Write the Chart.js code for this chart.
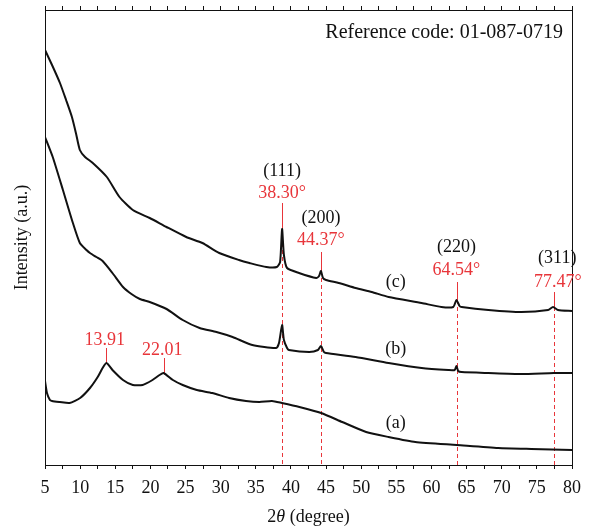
<!DOCTYPE html>
<html>
<head>
<meta charset="utf-8">
<script src="https://cdn.jsdelivr.net/npm/chart.js@4/dist/chart.umd.min.js"></script>
<style>
  body { margin: 0; background: #fff; }
  #wrap { width: 589px; height: 526px; }
</style>
</head>
<body>
<div id="wrap"><canvas id="xrdChart" width="589" height="526"></canvas></div>
<script>
// 2-theta (degree) and intensity (a.u., arbitrary offset units)
const thetaA = [5.0, 5.28, 5.7, 6.0, 7.1, 8.5, 10.0, 11.4, 12.5, 13.2, 13.75, 14.6, 16.1, 17.5, 18.9, 20.3, 21.3, 21.87, 23.2, 24.6, 26.6, 28.8, 31.2, 33.6, 35.5, 37.3, 38.7, 41.2, 44.3, 47.3, 50.7, 53.9, 57.7, 63.6, 69.5, 74.2, 80.0];
const intensA = [84, 72, 65, 64, 63, 62, 67, 77, 88, 97, 102, 95, 85, 80, 80, 85, 90, 92, 85, 80, 75, 72, 67, 64, 63, 64, 62, 58, 52, 43, 33, 28, 23, 20, 17, 16, 15];

const thetaB = [5.0, 6.1, 7.55, 8.97, 9.96, 10.9, 11.4, 12.3, 13.2, 14.6, 16.1, 17.3, 18.5, 19.9, 22.3, 24.6, 27.0, 29.4, 31.7, 34.5, 37.9, 38.3, 38.74, 39.0, 39.45, 39.7, 42.6, 43.85, 44.27, 44.7, 45.0, 49.2, 53.9, 58.6, 62.4, 63.3, 63.55, 63.8, 64.3, 68.1, 72.8, 77.4, 80.0];
const intensB = [328, 308, 275, 242, 222, 215, 212, 208, 204, 192, 178, 171, 166, 163, 156, 145, 137, 133, 128, 120, 117, 122, 140, 125, 117, 115, 113, 115, 119, 113, 112, 108, 102, 97, 95, 95, 99, 94, 93, 92, 91, 92, 92];

const thetaC = [5.0, 6.0, 7.13, 8.0, 8.83, 9.4, 9.96, 10.7, 11.8, 13.8, 15.6, 17.5, 19.9, 22.3, 25.1, 27.4, 29.8, 32.6, 34.1, 36.5, 38.0, 38.46, 38.74, 39.0, 39.45, 41.15, 43.6, 44.0, 44.27, 44.56, 45.0, 46.8, 49.2, 51.5, 53.9, 58.6, 61.4, 63.1, 63.55, 64.0, 64.3, 68.1, 72.8, 76.6, 77.3, 78.0, 80.0];
const intensC = [415, 400, 382, 365, 348, 332, 315, 308, 302, 288, 268, 255, 247, 238, 228, 222, 212, 205, 202, 198, 198, 203, 236, 210, 197, 192, 187, 189, 194, 187, 185, 182, 177, 173, 168, 162, 158, 158, 165, 159, 158, 155, 153, 155, 158, 155, 154];

// Reference peaks (dashed lines) and their labels
const peakPos = [38.74, 44.25, 63.6, 77.4];
const peakTop = [236, 194, 165, 158];
const lineTop = [262, 213, 183, 173];
const peakAngles = ['38.30°', '44.37°', '64.54°', '77.47°'];
const peakPlanes = ['(111)', '(200)', '(220)', '(311)'];

// Amorphous humps of curve (a)
const humpPos = [13.75, 21.87];
const humpTop = [102, 92];
const humpLineTop = [117, 107];
const humpLabels = ['13.91', '22.01'];

const curveNames = ['(a)', '(b)', '(c)'];
const xTicks = [5, 10, 15, 20, 25, 30, 35, 40, 45, 50, 55, 60, 65, 70, 75, 80];

const red = '#e8353a';
const ink = '#111111';
const serif = '"Liberation Serif", "DejaVu Serif", serif';

function toPoints(xs, ys) {
    return xs.map((v, i) => ({ x: v, y: ys[i] }));
}

const annotations = {
    id: 'annotations',
    beforeDatasetsDraw(chart) {
        const { ctx, scales: { x, y } } = chart;
        ctx.save();
        ctx.strokeStyle = red;
        ctx.lineWidth = 1;
        peakPos.forEach((p, i) => {
            const px = Math.round(x.getPixelForValue(p)) + 0.5;
            ctx.setLineDash([]);
            ctx.beginPath();
            ctx.moveTo(px, y.getPixelForValue(lineTop[i]));
            ctx.lineTo(px, y.getPixelForValue(peakTop[i]));
            ctx.stroke();
            ctx.setLineDash([4, 3]);
            ctx.beginPath();
            ctx.moveTo(px, y.getPixelForValue(peakTop[i]));
            ctx.lineTo(px, y.bottom);
            ctx.stroke();
        });
        ctx.setLineDash([]);
        humpPos.forEach((p, i) => {
            const px = Math.round(x.getPixelForValue(p)) + 0.5;
            ctx.beginPath();
            ctx.moveTo(px, y.getPixelForValue(humpLineTop[i]));
            ctx.lineTo(px, y.getPixelForValue(humpTop[i]));
            ctx.stroke();
        });
        ctx.restore();
    },
    afterDraw(chart) {
        const { ctx, chartArea, scales: { x, y } } = chart;
        ctx.save();
        ctx.textAlign = 'center';
        ctx.textBaseline = 'middle';
        ctx.font = '18px ' + serif;

        // (hkl) planes above the angle labels
        const planeAt = [[38.74, 294], [44.27, 247], [63.55, 218], [77.9, 207]];
        const angleAt = [[38.74, 272], [44.27, 225], [63.55, 195], [78.0, 183]];
        peakPlanes.forEach((t, i) => {
            ctx.fillStyle = ink;
            ctx.fillText(t, x.getPixelForValue(planeAt[i][0]), y.getPixelForValue(planeAt[i][1]));
            ctx.fillStyle = red;
            ctx.fillText(peakAngles[i], x.getPixelForValue(angleAt[i][0]), y.getPixelForValue(angleAt[i][1]));
        });

        const humpAt = [[13.5, 125], [21.7, 115]];
        ctx.fillStyle = red;
        humpLabels.forEach((t, i) => {
            ctx.fillText(t, x.getPixelForValue(humpAt[i][0]), y.getPixelForValue(humpAt[i][1]));
        });

        const nameAt = [[54.9, 42], [54.9, 116], [54.9, 183]];
        ctx.fillStyle = ink;
        curveNames.forEach((t, i) => {
            ctx.fillText(t, x.getPixelForValue(nameAt[i][0]), y.getPixelForValue(nameAt[i][1]));
        });

        ctx.textAlign = 'right';
        ctx.font = '20px ' + serif;
        ctx.fillText('Reference code: 01-087-0719', chartArea.right - 9, chartArea.top + 23);

        // x axis title with italic theta
        const parts = [['2', '18px '], ['θ', 'italic 18px '], [' (degree)', '18px ']];
        let total = 0;
        parts.forEach(p => { ctx.font = p[1] + serif; total += ctx.measureText(p[0]).width; });
        let cx = (chartArea.left + chartArea.right) / 2 - total / 2;
        ctx.textAlign = 'left';
        parts.forEach(p => {
            ctx.font = p[1] + serif;
            ctx.fillText(p[0], cx, chart.height - 9);
            cx += ctx.measureText(p[0]).width;
        });
        ctx.restore();
    }
};

const lineStyle = {
    borderColor: ink,
    borderWidth: 2,
    pointRadius: 0,
    tension: 0.2,
    fill: false
};

new Chart(document.getElementById('xrdChart'), {
    type: 'line',
    data: {
        datasets: [
            { label: curveNames[0], data: toPoints(thetaA, intensA), ...lineStyle },
            { label: curveNames[1], data: toPoints(thetaB, intensB), ...lineStyle },
            { label: curveNames[2], data: toPoints(thetaC, intensC), ...lineStyle }
        ]
    },
    options: {
        responsive: false,
        animation: false,
        layout: { padding: 0 },
        plugins: {
            legend: { display: false },
            tooltip: { enabled: false }
        },
        scales: {
            x: {
                type: 'linear',
                position: 'bottom',
                min: 5,
                max: 80,
                ticks: {
                    stepSize: 2.5,
                    autoSkip: false,
                    maxRotation: 0,
                    padding: 8,
                    color: ink,
                    font: { family: serif, size: 18 },
                    callback: v => xTicks.includes(v) ? v : ''
                },
                grid: { drawOnChartArea: false, tickLength: 4, color: ink },
                border: { color: ink, width: 1 },
                afterFit: s => { s.height = 61; }
            },
            xTop: {
                type: 'linear',
                position: 'top',
                min: 5,
                max: 80,
                ticks: { stepSize: 2.5, display: false },
                grid: { drawOnChartArea: false, tickLength: 4, color: ink },
                border: { color: ink, width: 1 },
                afterFit: s => { s.height = 10; }
            },
            y: {
                position: 'left',
                min: 0,
                max: 455,
                ticks: { display: false },
                grid: { drawOnChartArea: false, drawTicks: false },
                border: { color: ink, width: 1 },
                title: {
                    display: true,
                    text: 'Intensity (a.u.)',
                    color: ink,
                    font: { family: serif, size: 18 },
                    padding: { top: 11, bottom: 0 }
                },
                afterFit: s => { s.width = 45; }
            },
            yRight: {
                position: 'right',
                min: 0,
                max: 455,
                ticks: { display: false },
                grid: { drawOnChartArea: false, drawTicks: false },
                border: { color: ink, width: 1 },
                afterFit: s => { s.width = 15; }
            }
        }
    },
    plugins: [annotations]
});
</script>
</body>
</html>
